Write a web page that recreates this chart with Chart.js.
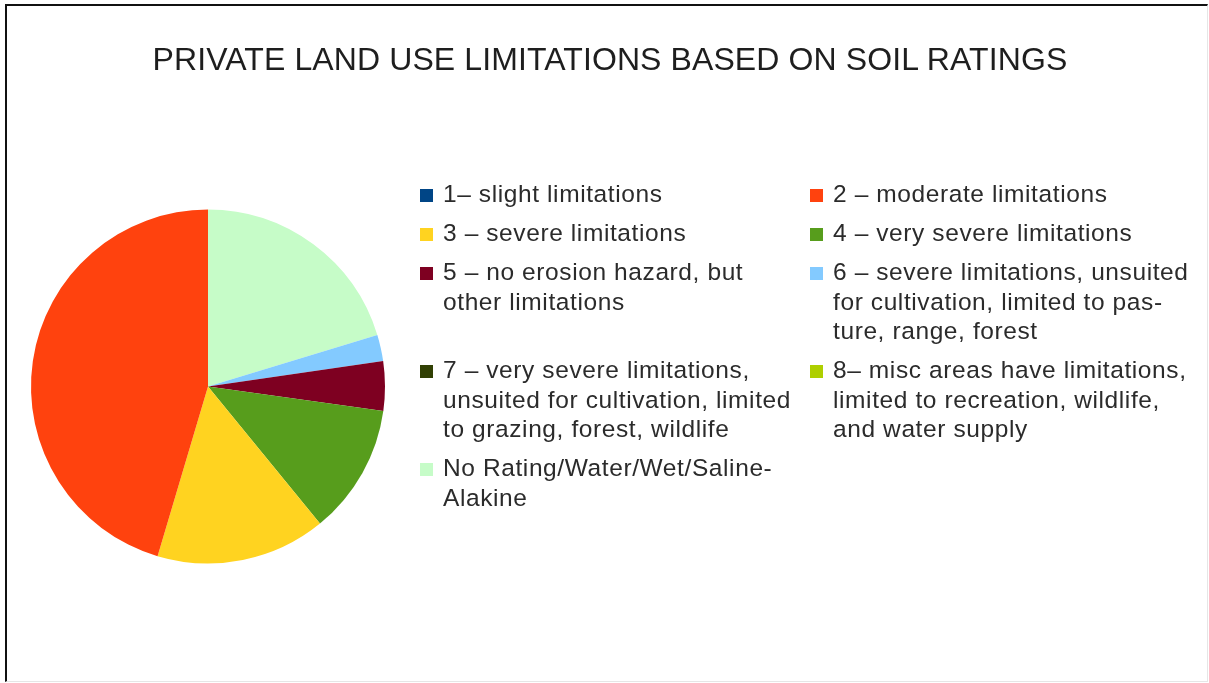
<!DOCTYPE html>
<html>
<head>
<meta charset="utf-8">
<title>Private land use limitations based on soil ratings</title>
<script src="https://cdn.jsdelivr.net/npm/chart.js@4/dist/chart.umd.min.js"></script>
<style>
  html, body { margin: 0; padding: 0; background: #fff; }
  body {
    width: 1209px; height: 683px; position: relative; overflow: hidden;
    font-family: "Liberation Sans", Arial, sans-serif; color: #2b2b2b;
  }
  #frame {
    position: absolute; left: 5px; top: 4px; width: 1200px; height: 675px;
    border-top: 2px solid #111; border-left: 2px solid #111;
    border-right: 1px solid #e6e6e6; border-bottom: 1px solid #e6e6e6;
  }
  #pie { position: absolute; left: 0; top: 0; }
  #title {
    position: absolute; left: 0; width: 1220px; top: 41px;
    text-align: center; font-size: 32px; line-height: 36px;
    letter-spacing: 0.1px; color: #1e1e1e; white-space: nowrap;
  }
  #legend {
    position: absolute; left: 420px; top: 179px;
    display: grid; grid-template-columns: 390px 390px; row-gap: 9.5px;
    font-size: 24.5px; line-height: 29.5px; letter-spacing: 0.6px; color: #2b2b2b;
  }
  .item { position: relative; padding-left: 23px; white-space: nowrap; }
  .swatch { position: absolute; left: 0; top: 10px; width: 13px; height: 13px; }
</style>
</head>
<body>
<div id="frame"></div>
<canvas id="pie" width="1209" height="683"></canvas>
<div id="title"></div>
<div id="legend"></div>
<script>
// Chart title
const chartTitle = 'PRIVATE LAND USE LIMITATIONS BASED ON SOIL RATINGS';

// Soil rating classes (legend lines as they wrap)
const categories = [
  ['1\u2013 slight limitations'],
  ['2 \u2013 moderate limitations'],
  ['3 \u2013 severe limitations'],
  ['4 \u2013 very severe limitations'],
  ['5 \u2013 no erosion hazard, but', 'other limitations'],
  ['6 \u2013 severe limitations, unsuited', 'for cultivation, limited to pas-', 'ture, range, forest'],
  ['7 \u2013 very severe limitations,', 'unsuited for cultivation, limited', 'to grazing, forest, wildlife'],
  ['8\u2013 misc areas have limitations,', 'limited to recreation, wildlife,', 'and water supply'],
  ['No Rating/Water/Wet/Saline-', 'Alakine']
];

// Share of private land in each class (%)
const shares = [0, 45.4, 15.5, 11.9, 4.5, 2.4, 0, 0, 20.3];

// Slice colours per class
const colors = ['#004586', '#ff420e', '#ffd320', '#579d1c', '#7e0021', '#83caff', '#314004', '#aecf00', '#c6fcc8'];

document.getElementById('title').textContent = chartTitle;

// Slices run counter-clockwise from 12 o'clock, so feed the pie in reverse order
const order = categories.map((_, i) => i).reverse();

const chart = new Chart(document.getElementById('pie'), {
  type: 'pie',
  data: {
    labels: order.map(i => categories[i]),
    datasets: [{
      data: order.map(i => shares[i]),
      backgroundColor: order.map(i => colors[i]),
      borderWidth: 0,
      hoverOffset: 0
    }]
  },
  options: {
    responsive: false,
    animation: false,
    events: [],
    layout: { padding: { left: 31, right: 824, top: 209.5, bottom: 119.5 } },
    plugins: {
      legend: { display: false },
      title: { display: false },
      tooltip: { enabled: false }
    }
  }
});

// Two-column legend in class order
const legend = document.getElementById('legend');
categories.forEach((lines, i) => {
  const item = document.createElement('div');
  item.className = 'item';
  const sw = document.createElement('span');
  sw.className = 'swatch';
  sw.style.background = colors[i];
  item.appendChild(sw);
  lines.forEach((line, k) => {
    if (k) item.appendChild(document.createElement('br'));
    item.appendChild(document.createTextNode(line));
  });
  legend.appendChild(item);
});
</script>
</body>
</html>
